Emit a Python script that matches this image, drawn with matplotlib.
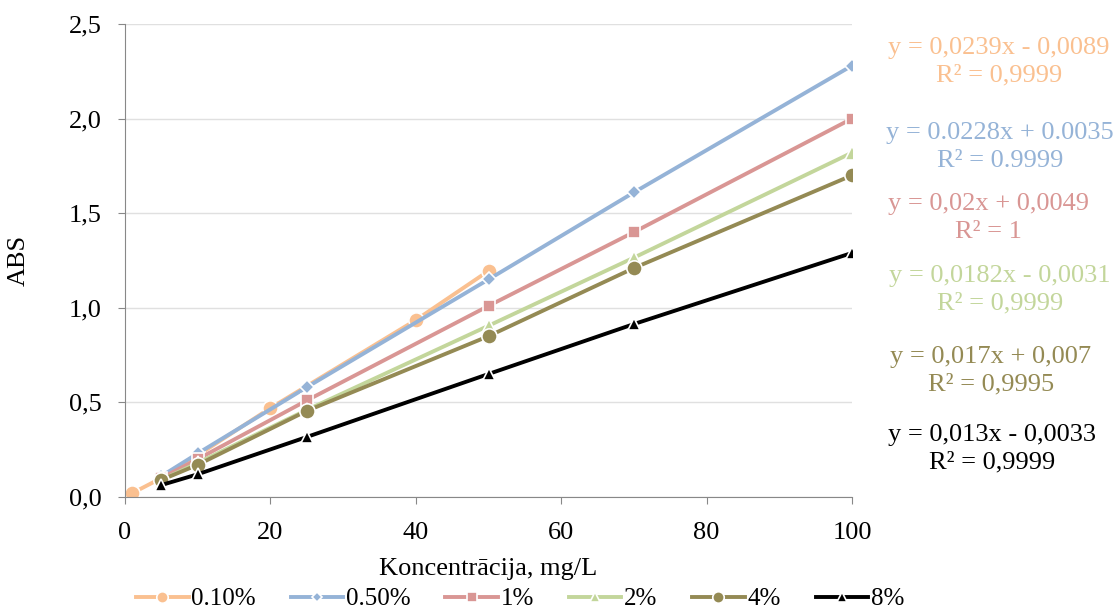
import numpy as np
import matplotlib
matplotlib.use("Agg")
import matplotlib.pyplot as plt
from matplotlib.ticker import FuncFormatter

plt.rcParams['font.family'] = ['Liberation Serif', 'DejaVu Serif']

# dati
x_010 = [1, 5, 10, 20, 40, 50]
y_010 = [0.02, 0.10, 0.22, 0.47, 0.935, 1.195]
x_std = [5, 10, 25, 50, 70, 100]
y_050 = [0.11, 0.23, 0.58, 1.15, 1.61, 2.28]
y_1 = [0.10, 0.20, 0.51, 1.01, 1.40, 2.00]
y_2 = [0.09, 0.18, 0.46, 0.905, 1.265, 1.82]
y_4 = [0.09, 0.17, 0.455, 0.85, 1.21, 1.70]
y_8 = [0.063, 0.12, 0.317, 0.65, 0.914, 1.29]

labels = ['0.10%', '0.50%', '1%', '2%', '4%', '8%']
colors = ['#FAC090', '#95B3D7', '#D99694', '#C3D69B', '#948A54', '#000000']
markers = ['o', 'D', 's', '^', 'o', '^']
msizes = [11, 7, 9, 10, 11, 9]
equations = ['y = 0,0239x - 0,0089\nR² = 0,9999',
             'y = 0.0228x + 0.0035\nR² = 0.9999',
             'y = 0,02x + 0,0049\nR² = 1',
             'y = 0,0182x - 0,0031\nR² = 0,9999',
             'y = 0,017x + 0,007\nR² = 0,9995',
             'y = 0,013x - 0,0033\nR² = 0,9999']
eq_pos = [(999, 62), (1000, 147), (988, 218), (1000, 290), (991, 371), (992, 449)]

xs = [x_010, x_std, x_std, x_std, x_std, x_std]
ys = [y_010, y_050, y_1, y_2, y_4, y_8]

fig = plt.figure(figsize=(11.18, 6.14), dpi=100)
ax = fig.add_axes([0.1118, 0.1906, 0.6503, 0.7703])

for xx, yy, c, m, ms, lab in zip(xs, ys, colors, markers, msizes, labels):
    ax.plot(xx, yy, color=c, marker=m, markersize=ms, linewidth=2.8,
            markeredgecolor='white', markeredgewidth=1.2, label=lab)

ax.set_xlim(0, 100)
ax.set_ylim(0, 2.5)
ax.set_xticks(np.arange(0, 101, 20))
ax.set_yticks(np.arange(0, 2.51, 0.5))
ax.yaxis.set_major_formatter(FuncFormatter(lambda v, p: f'{v:.1f}'.replace('.', ',')))
ax.grid(axis='y', color='#E0E0E0', linewidth=1)
ax.set_axisbelow(True)
for s in ['top', 'right']:
    ax.spines[s].set_visible(False)
for s in ['left', 'bottom']:
    ax.spines[s].set_color('#888888')
ax.tick_params(colors='#888888', labelcolor='black', labelsize=19, length=5)
ax.tick_params(axis='y', pad=12)
ax.tick_params(axis='x', pad=13)
ax.set_xlabel('Koncentrācija, mg/L', fontsize=19)
ax.xaxis.set_label_coords(0.5, -0.128)
ax.set_ylabel('ABS', fontsize=19, labelpad=28)

for (px, py), eq, c in zip(eq_pos, equations, colors):
    fig.text(px / 1118, 1 - py / 614, eq, color=c, fontsize=19,
             ha='center', va='center', multialignment='center', linespacing=1.3)

fig.legend(loc='center', bbox_to_anchor=(520 / 1118, 1 - 599 / 614), ncol=6, frameon=False,
           fontsize=18, handlelength=2.1, columnspacing=1.4, handletextpad=0.1,
           markerscale=0.75, borderpad=0.2)

fig.savefig('out.png', dpi=100)
